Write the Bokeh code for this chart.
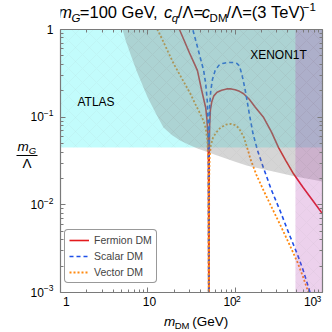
import math
from bokeh.plotting import figure
from bokeh.layouts import column, row
from bokeh.models import (Label, Legend, LegendItem, LogAxis, FixedTicker,
                          CustomJSTickFormatter, Range1d, Arrow)
from bokeh.embed import file_html
from bokeh.resources import INLINE

# ---------------- data ----------------
X_RANGE = (1, 1000)
Y_RANGE = (1e-3, 1)
X_TICKS = [1, 10, 100, 1000]
X_TICK_LABELS = [("1", ""), ("10", ""), ("10", "2"), ("10", "3")]
Y_TICKS = [1, 0.1, 0.01, 0.001]
Y_TICK_LABELS = [("1", ""), ("10", "\u22121"), ("10", "\u22122"), ("10", "\u22123")]

FERMION_M = [20, 23, 26, 30, 34, 37, 41, 44, 46, 47.5, 48.8, 49.6, 50, 50.4, 51, 52, 54, 57, 62,
             70, 80, 90, 100, 112, 125, 145, 170, 212, 260, 314, 380, 466, 600, 800, 1000]
FERMION_Y = [1.6, 1.0, 0.755, 0.54, 0.41, 0.34, 0.21, 0.155, 0.128, 0.095, 0.06, 0.03, 1e-4, 0.035,
             0.08, 0.12, 0.15, 0.175, 0.192, 0.203, 0.21, 0.21, 0.205, 0.197, 0.185, 0.16, 0.13,
             0.099, 0.068, 0.045, 0.032, 0.0226, 0.0158, 0.0107, 0.0079]

SCALAR_M = [30, 32.7, 36, 40, 43.6, 46, 48, 49.3, 50, 50.4, 51, 52.5, 55, 59, 65, 72, 82, 95, 105,
            110, 115, 120, 126, 132, 145, 160, 180, 212, 260, 331, 420, 518, 600, 700, 800]
SCALAR_Y = [1.4, 1.0, 0.70, 0.47, 0.34, 0.24, 0.15, 0.07, 1e-4, 0.06, 0.13, 0.2, 0.27, 0.34, 0.39,
            0.41, 0.42, 0.42, 0.41, 0.39, 0.35, 0.30, 0.24, 0.19, 0.11, 0.065, 0.042, 0.026,
            0.0148, 0.0083, 0.0045, 0.0027, 0.0018, 0.0011, 0.0007]

VECTOR_M = [11, 12.9, 15, 17, 19.7, 23, 27, 30.7, 35, 40, 43.4, 46, 48, 49.3, 50, 50.4, 51, 52.5,
            55.6, 60, 68, 78, 89, 100, 110, 125, 140, 150, 175, 212, 260, 331, 420, 518, 600,
            690, 760]
VECTOR_Y = [1.5, 1.0, 0.73, 0.56, 0.41, 0.31, 0.233, 0.185, 0.141, 0.108, 0.091, 0.075, 0.055,
            0.03, 1e-4, 0.02, 0.035, 0.047, 0.058, 0.066, 0.076, 0.082, 0.084, 0.081, 0.075,
            0.06, 0.042, 0.033, 0.022, 0.0145, 0.0095, 0.0058, 0.0035, 0.0022, 0.0015, 0.001,
            0.0007]

ATLAS_Y_MIN = 0.045
XENON_M = [5.0, 5.13, 5.6, 6.3, 7.5, 9.9, 12.5, 15.1, 19, 23.7, 30, 37, 60, 100, 138, 250, 490, 1000]
XENON_Y = [1.2, 1.0, 0.74, 0.53, 0.33, 0.17, 0.108, 0.076, 0.062, 0.054, 0.048, 0.044, 0.037,
           0.031, 0.028, 0.0245, 0.021, 0.0185]
PURPLE_M_MIN = 490

# ---------------- layout geometry (page pixels) ----------------
FONT = "Liberation Sans"
GREY = "#7a7a7a"
TOTAL = 330
TOP_H = 26          # title strip height
LEFT_W = 54         # left strip (y tick labels, y label), full height
BOT_TOP = 293       # top of the bottom strip
FL, FT, FW, FH = 60, 29, 262, 263   # plot frame on the page
LX0, LX1 = math.log10(X_RANGE[0]), math.log10(X_RANGE[1])
LY0, LY1 = math.log10(Y_RANGE[0]), math.log10(Y_RANGE[1])
BASE_CORR = 0.4     # baseline correction (fraction of font size)


def X(px):
    return 10 ** (LX0 + (px - FL) / FW * (LX1 - LX0))


def Y(py):
    return 10 ** (LY1 - (py - FT) / FH * (LY1 - LY0))


def ident(v):
    return v


WID = {'m': 833, 'G': 778, '=': 584, ' ': 278, 'e': 556, 'V': 667, ',': 278, 'c': 500,
       'q': 556, '/': 278, '\u039b': 667, 'D': 722, 'M': 833, '(': 333, ')': 333, 'T': 611,
       '\u2212': 584, 'A': 667, 'L': 556, 'S': 667, 'X': 667, 'E': 667, 'N': 722, 'O': 778}


def tw(s, size):
    return sum(WID.get(ch, 556) for ch in s) * size / 1000.0


def rich(fig, parts, px, py, align, fx, fy):
    total = sum(tw(t, s) for t, s, st, dy in parts)
    cur = px if align == "left" else (px - total / 2 if align == "center" else px - total)
    for t, s, st, dy in parts:
        lead = len(t) - len(t.lstrip(" "))
        cur += tw(" " * lead, s)
        t2 = t.lstrip(" ")
        if t2:
            fig.add_layout(Label(x=fx(cur), y=fy(py + dy - BASE_CORR * s), text=t2,
                                 text_font=FONT, text_font_size=f"{s}px", text_font_style=st,
                                 text_color="black", text_align="left",
                                 text_baseline="alphabetic"))
        cur += tw(t2, s)


def blank(width, height, x_range, y_range, x_type="linear", y_type="linear"):
    f = figure(width=width, height=height, x_range=x_range, y_range=y_range,
               x_axis_type=x_type, y_axis_type=y_type, x_axis_location=None,
               y_axis_location=None, title=None, toolbar_location=None,
               output_backend="svg", min_border=0, min_border_left=0, min_border_right=0,
               min_border_top=0, min_border_bottom=0)
    f.outline_line_color = None
    f.xgrid.visible = False
    f.ygrid.visible = False
    f.background_fill_color = "white"
    f.border_fill_color = "white"
    return f


# ---------------- main plot ----------------
p = figure(width=TOTAL - LEFT_W, height=BOT_TOP - TOP_H, x_axis_type="log", y_axis_type="log",
           x_range=Range1d(*X_RANGE), y_range=Range1d(*Y_RANGE), title=None,
           output_backend="svg", toolbar_location=None,
           min_border_left=FL - LEFT_W, min_border_right=TOTAL - FL - FW,
           min_border_top=FT - TOP_H, min_border_bottom=BOT_TOP - FT - FH)
p.xgrid.visible = False
p.ygrid.visible = False
p.outline_line_color = None
p.background_fill_color = "white"

# curves (drawn under the translucent regions)
rf = p.line(FERMION_M, FERMION_Y, line_color="#e31a1c", line_width=1.6)
rs = p.line(SCALAR_M, SCALAR_Y, line_color="#1f4fe8", line_width=1.6, line_dash="4 3")
rv = p.line(VECTOR_M, VECTOR_Y, line_color="#ff8a10", line_width=1.8, line_dash="2 2")

HATCH = dict(hatch_pattern="diagonal_cross", hatch_color="#888888", hatch_alpha=0.10,
             hatch_scale=14, hatch_weight=0.6)
p.quad(left=X_RANGE[0], right=X_RANGE[1], bottom=ATLAS_Y_MIN, top=Y_RANGE[1],
       fill_color="#00f2f2", fill_alpha=0.24, line_color=None, **HATCH)
p.patch(XENON_M + [XENON_M[-1], XENON_M[0]], XENON_Y + [Y_RANGE[1] * 1.2, Y_RANGE[1] * 1.2],
        fill_color="#808080", fill_alpha=0.33, line_color=None, **HATCH)
p.quad(left=PURPLE_M_MIN, right=X_RANGE[1], bottom=Y_RANGE[0], top=Y_RANGE[1],
       fill_color="#b040b0", fill_alpha=0.24, line_color=None, **HATCH)

# axes: ticks only (pointing inwards), on all four sides
xminor = [k * 10 ** e for e in range(0, 3) for k in range(2, 10)]
yminor = [k * 10 ** e for e in range(-3, 0) for k in range(2, 10)]
p.add_layout(LogAxis(), "above")
p.add_layout(LogAxis(), "right")
for ax in p.xaxis:
    ax.ticker = FixedTicker(ticks=X_TICKS, minor_ticks=xminor)
for ax in p.yaxis:
    ax.ticker = FixedTicker(ticks=Y_TICKS, minor_ticks=yminor)
for ax in list(p.xaxis) + list(p.yaxis):
    ax.formatter = CustomJSTickFormatter(code="return '';")
    ax.major_label_text_font_size = "0px"
    ax.axis_line_color = GREY
    ax.axis_line_width = 1.2
    ax.major_tick_line_color = GREY
    ax.minor_tick_line_color = GREY
    ax.major_tick_in = 5
    ax.major_tick_out = 0
    ax.minor_tick_in = 3
    ax.minor_tick_out = 0
    ax.major_label_standoff = 0

rich(p, [("ATLAS", 12, "normal", 0)], 96, 106, "center", X, Y)
rich(p, [("XENON1T", 12, "normal", 0)], 278, 59, "center", X, Y)

legend = Legend(items=[LegendItem(label="Fermion DM", renderers=[rf]),
                       LegendItem(label="Scalar DM", renderers=[rs]),
                       LegendItem(label="Vector DM", renderers=[rv])],
                location=(4, 9), orientation="vertical",
                label_text_font=FONT, label_text_font_size="10.5px",
                glyph_width=20, glyph_height=12, label_height=12, label_standoff=5,
                padding=4, spacing=4, margin=0,
                border_line_color="#333333", border_line_width=1,
                background_fill_color="white", background_fill_alpha=1.0)
try:
    legend.border_radius = 4
except Exception:
    pass
p.add_layout(legend)

# ---------------- title strip (above the main plot) ----------------
top = blank(TOTAL - LEFT_W, TOP_H, Range1d(LEFT_W, TOTAL), Range1d(TOP_H, 0))
rich(top, [("m", 16.5, "italic", 0), ("G", 11.5, "italic", 4),
           ("=100 GeV,  ", 16.5, "normal", 0),
           ("c", 16.5, "italic", 0), ("q", 11.5, "italic", 4), ("/\u039b=", 16.5, "normal", 0),
           ("c", 16.5, "italic", 0), ("DM", 11.5, "normal", 4),
           ("/\u039b=(3 TeV)", 16.5, "normal", 0), ("\u22121", 11.5, "normal", -7)],
     187, 18, "center", ident, ident)

# ---------------- left strip: y tick labels and y label ----------------
left = blank(LEFT_W, TOTAL, Range1d(0, LEFT_W), Range1d(Y(TOTAL), Y(0)), y_type="log")
for v, (base, sup) in zip(Y_TICKS, Y_TICK_LABELS):
    py = FT + (LY1 - math.log10(v)) / (LY1 - LY0) * FH
    parts = [(base, 12, "normal", 0)] + ([(sup, 8.5, "normal", -5)] if sup else [])
    rich(left, parts, 53, py + 4.3, "right", ident, Y)
rich(left, [("m", 13.5, "italic", 0), ("G", 9.5, "italic", 3)], 17, 151, "left", ident, Y)
left.add_layout(Arrow(x_start=16, y_start=Y(155), x_end=37, y_end=Y(155),
                      start=None, end=None, line_color="black", line_width=1))
rich(left, [("\u039b", 13.5, "normal", 0)], 26.5, 168, "center", ident, Y)

# ---------------- bottom strip: x tick labels and x label ----------------
bottom = blank(TOTAL - LEFT_W, TOTAL - BOT_TOP, Range1d(X(LEFT_W), X(TOTAL)),
               Range1d(TOTAL, BOT_TOP), x_type="log")
for v, (base, sup) in zip(X_TICKS, X_TICK_LABELS):
    px = FL + (math.log10(v) - LX0) / (LX1 - LX0) * FW
    parts = [(base, 12, "normal", 0)] + ([(sup, 8.5, "normal", -4)] if sup else [])
    w = sum(tw(t, s) for t, s, st, dy in parts)
    px = min(px, TOTAL - 1.5 - w / 2)
    rich(bottom, parts, px, 305.5, "center", X, ident)
rich(bottom, [("m", 13.5, "italic", 0), ("DM", 9.5, "normal", 3), (" (GeV)", 13.5, "normal", 0)],
     163, 326, "left", X, ident)

layout = row(left, column(top, p, bottom, spacing=0), spacing=0)
open("out.html", "w").write(file_html(layout, INLINE))
